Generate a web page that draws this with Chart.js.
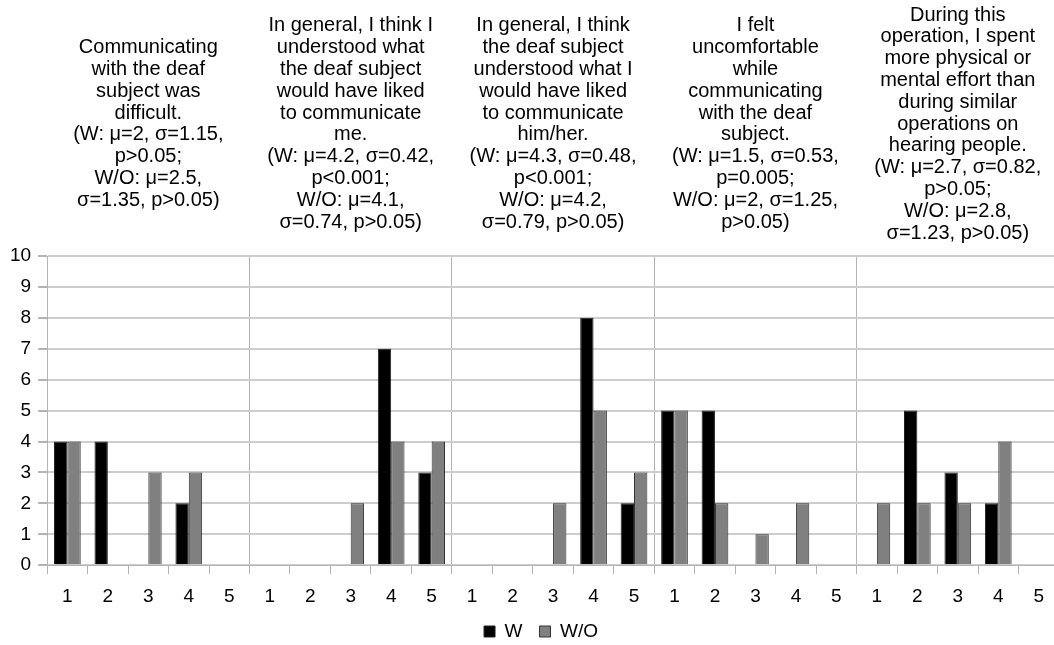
<!DOCTYPE html>
<html>
<head>
<meta charset="utf-8">
<script src="https://cdn.jsdelivr.net/npm/chart.js@4/dist/chart.umd.min.js"></script>
<style>
  html, body { margin: 0; padding: 0; background: #fff; overflow: hidden; }
  #wrap { width: 1080px; height: 645px; }
</style>
</head>
<body>
<div id="wrap"><canvas id="myChart" width="1080" height="645"></canvas></div>
<script>
// answer scale 1..5, repeated for each of the five questions
const scaleLabels = ['1', '2', '3', '4', '5'];
const categories = [].concat(scaleLabels, scaleLabels, scaleLabels, scaleLabels, scaleLabels);

// number of answers per scale value
const withValues = [4, 4, 0, 2, 0,   0, 0, 0, 7, 3,   0, 0, 0, 8, 2,   5, 5, 0, 0, 0,   0, 5, 3, 2, 0];
const withoutValues = [4, 0, 3, 3, 0,   0, 0, 2, 4, 4,   0, 0, 2, 5, 3,   5, 2, 1, 2, 0,   2, 2, 2, 4, 0];

const yTicks = [0, 1, 2, 3, 4, 5, 6, 7, 8, 9, 10];

const questionTitles = [
    ['Communicating', 'with the deaf', 'subject was', 'difficult.', '(W: \u03bc=2, \u03c3=1.15,', 'p>0.05;', 'W/O: \u03bc=2.5,', '\u03c3=1.35, p>0.05)'],
    ['In general, I think I', 'understood what', 'the deaf subject', 'would have liked', 'to communicate', 'me.', '(W: \u03bc=4.2, \u03c3=0.42,', 'p<0.001;', 'W/O: \u03bc=4.1,', '\u03c3=0.74, p>0.05)'],
    ['In general, I think', 'the deaf subject', 'understood what I', 'would have liked', 'to communicate', 'him/her.', '(W: \u03bc=4.3, \u03c3=0.48,', 'p<0.001;', 'W/O: \u03bc=4.2,', '\u03c3=0.79, p>0.05)'],
    ['I felt', 'uncomfortable', 'while', 'communicating', 'with the deaf', 'subject.', '(W: \u03bc=1.5, \u03c3=0.53,', 'p=0.005;', 'W/O: \u03bc=2, \u03c3=1.25,', 'p>0.05)'],
    ['During this', 'operation, I spent', 'more physical or', 'mental effort than', 'during similar', 'operations on', 'hearing people.', '(W: \u03bc=2.7, \u03c3=0.82,', 'p>0.05;', 'W/O: \u03bc=2.8,', '\u03c3=1.23, p>0.05)']
];

const FONT = '"Liberation Sans", Arial, sans-serif';

// question texts centred above each group of five bars
const groupTitles = {
    id: 'groupTitles',
    afterLayout(chart) {
        // legend sits a little right of the canvas centre
        chart.legend.left += 10;
        chart.legend.right += 10;
    },
    afterDraw(chart) {
        const ctx = chart.ctx;
        const x = chart.scales.x;
        const lineStep = 21.8;
        const middle = chart.chartArea.top - 132;
        ctx.save();
        ctx.font = '20px ' + FONT;
        ctx.fillStyle = '#000';
        ctx.textAlign = 'center';
        ctx.textBaseline = 'middle';
        questionTitles.forEach(function (lines, g) {
            const cx = x.getPixelForValue(g * 5 + 2);
            const top = middle - (lines.length - 1) * lineStep / 2;
            lines.forEach(function (t, i) {
                ctx.fillText(t, cx, top + i * lineStep);
            });
        });
        ctx.restore();
    }
};

const ctx = document.getElementById('myChart').getContext('2d');
new Chart(ctx, {
    type: 'bar',
    data: {
        labels: categories,
        datasets: [{
            label: 'W',
            data: withValues,
            backgroundColor: '#000000',
            borderColor: '#222222',
            borderWidth: 1,
            categoryPercentage: 0.66,
            barPercentage: 1.0
        }, {
            label: 'W/O',
            data: withoutValues,
            backgroundColor: '#808080',
            borderColor: '#333333',
            borderWidth: 1,
            categoryPercentage: 0.66,
            barPercentage: 1.0
        }]
    },
    options: {
        responsive: false,
        animation: false,
        layout: {
            padding: { top: 256, left: 3, right: 21, bottom: -6 }
        },
        scales: {
            x: {
                afterFit: function (axis) { axis.height -= 14; },
                grid: {
                    offset: true,
                    color: function (c) { return c.index % 5 === 0 ? '#b3b3b3' : 'rgba(0,0,0,0)'; },
                    tickColor: '#b3b3b3',
                    tickLength: 9
                },
                border: { color: '#b3b3b3' },
                ticks: {
                    color: '#000',
                    font: { family: FONT, size: 19 },
                    padding: 11,
                    maxRotation: 0,
                    autoSkip: false
                }
            },
            y: {
                min: 0,
                max: 10,
                afterBuildTicks: function (axis) {
                    axis.ticks = yTicks.map(function (v) { return { value: v }; });
                },
                grid: {
                    color: '#cdcdcd',
                    lineWidth: 2,
                    tickColor: '#b3b3b3',
                    tickLength: 9
                },
                border: { color: '#b3b3b3' },
                ticks: {
                    color: '#000',
                    font: { family: FONT, size: 19 },
                    padding: 7
                }
            }
        },
        plugins: {
            legend: {
                position: 'bottom',
                labels: {
                    boxWidth: 11,
                    boxHeight: 11,
                    padding: 17,
                    color: '#000',
                    font: { family: FONT, size: 19 }
                }
            },
            tooltip: { enabled: false }
        }
    },
    plugins: [groupTitles]
});
</script>
</body>
</html>
